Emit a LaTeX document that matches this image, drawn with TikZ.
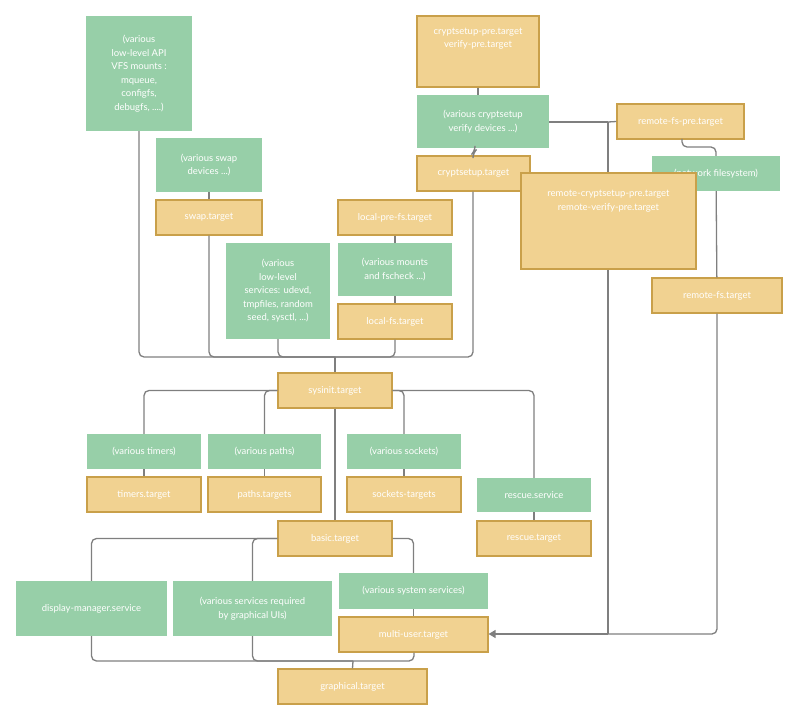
\documentclass[tikz,border=0pt]{standalone}
\usepackage{fontspec}
\setmainfont{Lato}
\usetikzlibrary{arrows.meta}
\definecolor{gr}{HTML}{97CFA8}
\definecolor{ye}{HTML}{F1D291}
\definecolor{yb}{HTML}{C9A04A}
\definecolor{ln}{HTML}{7F7F7F}
\begin{document}
\begin{tikzpicture}[x=1pt,y=-1pt,
  bx/.style={inner sep=0pt,text=white,align=center,font=\fontsize{9.5}{13.5}\selectfont},
  g/.style={bx,fill=gr},
  yl/.style={bx,fill=ye,draw=yb,line width=1.2pt},
  c/.style={draw=ln,line width=1.3pt,rounded corners=5pt}]
\useasboundingbox (0,0) rectangle (800,722);
\newcommand\bb[6]{\node[#1,minimum width=#4-#2,minimum height=#5-#3] (#6) at ({(#2+#4)/2},{(#3+#5)/2})}
\bb{g}{86}{16}{192}{131}{vfs} {(various\\low-level API\\VFS mounts :\\mqueue,\\configfs,\\debugfs, ....)};
\bb{g}{156}{138}{262}{192}{swd} {(various swap\\devices ...)};
\bb{yl}{156}{200}{262}{235}{swt} {swap.target};
\bb{g}{226}{243}{330}{339}{lls} {(various\\low-level\\services: udevd,\\tmpfiles, random\\seed, sysctl, ...)};
\bb{yl}{338}{200}{452}{235}{lpf} {local-pre-fs.target};
\bb{g}{338}{243}{452}{296}{mnt} {(various mounts\\and fscheck ...)};
\bb{yl}{338}{304}{452}{339}{lfs} {local-fs.target};
\bb{yl}{417}{16}{539}{87}{cpre} {cryptsetup-pre.target\\verify-pre.target\\[14pt]};
\bb{g}{417}{95}{549}{148}{cdev} {(various cryptsetup\\verify devices ...)};
\bb{yl}{417}{156}{530}{191}{ct} {cryptsetup.target};
\bb{yl}{617}{104}{744}{139}{rfp} {remote-fs-pre.target};
\bb{g}{652}{156}{780}{191}{nfs} {(network filesystem)};
\bb{yl}{521}{173}{696}{269}{rcp} {remote-cryptsetup-pre.target\\remote-verify-pre.target\\[28pt]};
\bb{yl}{652}{278}{782}{313}{rft} {remote-fs.target};
\bb{yl}{278}{373}{392}{408}{sys} {sysinit.target};
\bb{g}{87}{434}{201}{469}{tim} {(various timers)};
\bb{yl}{87}{477}{201}{512}{timt} {timers.target};
\bb{g}{208}{434}{321}{469}{pat} {(various paths)};
\bb{yl}{208}{477}{321}{512}{patt} {paths.targets};
\bb{g}{347}{434}{461}{469}{soc} {(various sockets)};
\bb{yl}{347}{477}{461}{512}{soct} {sockets-targets};
\bb{g}{477}{478}{591}{512}{res} {rescue.service};
\bb{yl}{477}{521}{591}{556}{rest} {rescue.target};
\bb{yl}{278}{521}{392}{556}{bas} {basic.target};
\bb{g}{16}{581}{167}{636}{dm} {display-manager.service};
\bb{g}{173}{581}{332}{636}{gui} {(various services required\\by graphical UIs)};
\bb{g}{339}{573}{488}{609}{ss} {(various system services)};
\bb{yl}{339}{617}{488}{652}{mu} {multi-user.target};
\bb{yl}{278}{669}{427}{704}{gt} {graphical.target};
\coordinate (j1) at (335,357);
\coordinate (j2) at (353,661);
\coordinate (j3) at (608,122);
\coordinate (j4) at (608,634);
% top to sysinit
\draw[c] (vfs.south) |- (j1);
\draw[c] (swt.south) |- (j1);
\draw[c] (lls.south) |- (j1);
\draw[c] (lfs.south) |- (j1);
\draw[c] (ct.south -| 473,0) |- (j1);
\draw[c] (j1) -- (sys.north);
\draw[c] (swd) -- (swt);
\draw[c] (lpf) -- (mnt); \draw[c] (mnt) -- (lfs);
\draw[c] (cpre) -- (cpre|-cdev.north);
\draw[c] (475,148) -- (475,151) -- (473,153) -- (473,156);
% right side
\draw[c] (cdev.east|-j3) -- (j3);
\draw[c] (rfp.west) -- (j3);
\draw[c] (j3) -- (j3|-rcp.north);
\draw[c] (j3|-rcp.south) -- (j4);
\draw[c] (682,139) |- (716,147) -- (nfs.north);
\draw[c] (nfs) -- (rft);
\draw[c] (rft.south) |- (j4);
\draw[c,-{Triangle[length=7pt,width=8pt]}] (j4) -- (mu.east|-j4);
% sysinit branches
\draw[c] (sys.west) -| (tim.north);
\draw[c] (sys.west) -| (pat.north);
\draw[c] (sys.east) -| (soc.north);
\draw[c] (sys.east) -| (res.north);
\draw[c] (sys) -- (bas);
\draw[c] (tim) -- (timt); \draw[c] (pat) -- (patt); \draw[c] (soc) -- (soct); \draw[c] (res) -- (rest);
% basic branches
\draw[c] (bas.west) -| (dm.north);
\draw[c] (bas.west) -| (gui.north);
\draw[c] (bas.east) -| (ss.north);
\draw[c] (ss) -- (mu);
\draw[c] (dm.south) |- (j2);
\draw[c] (gui.south) |- (j2);
\draw[c] (mu.south-|414,0) |- (j2);
\draw[c] (j2) -- (gt.north);
\end{tikzpicture}
\end{document}
